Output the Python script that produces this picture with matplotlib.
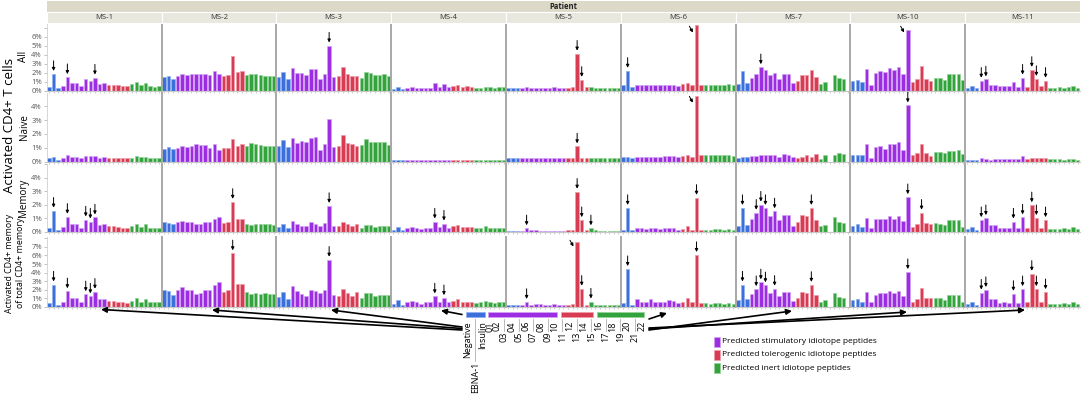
import numpy as np
import matplotlib
matplotlib.use("Agg")
from matplotlib import pyplot as plt
from matplotlib.patches import Rectangle

plt.rcParams["font.family"] = ["Open Sans", "DejaVu Sans"]

nan = np.nan

peptides = ["Negative", "EBNA-1", "Insulin", "01", "02", "03", "04", "05", "06", "07",
            "08", "09", "10", "11", "12", "13", "14", "15", "16", "17", "18", "19",
            "20", "21", "22"]
# first and last peptide index of each colour group
group_spans = [("ctrl", 0, 2), ("stim", 3, 12), ("tol", 13, 17), ("inert", 18, 24)]
patients = ["MS-1", "MS-2", "MS-3", "MS-4", "MS-5", "MS-6", "MS-7", "MS-10", "MS-11"]
row_names = ["All", "Naive", "Memory", "Total"]

# % activated, row "All"
all_ms1 = [0.4, 1.85, 0.3, 0.55, 1.5, 0.9, 0.9, 0.5, 1.3, 1.05, 1.45, 0.7, 0.85, 0.6, 0.6, 0.6, 0.5, 0.5, 0.7, 1.0, 0.65, 0.9, 0.55, 0.45, 0.5]
all_ms2 = [1.55, 1.65, 1.3, 1.65, 1.9, 1.75, 1.8, 1.8, 1.8, 1.9, 1.7, 2.15, 1.85, 1.65, 1.7, 3.8, 2.05, 2.15, 1.7, 1.8, 1.85, 1.75, 1.65, 1.65, 1.6]
all_ms3 = [1.5, 2.1, 1.3, 2.5, 1.95, 1.95, 1.75, 2.35, 2.35, 1.3, 1.9, 5.0, 1.5, 1.6, 2.6, 1.85, 1.65, 1.65, 1.4, 2.1, 1.95, 1.7, 1.75, 1.85, 1.65]
all_ms4 = [0.2, 0.45, 0.2, 0.35, 0.4, 0.35, 0.35, 0.35, 0.35, 0.85, 0.45, 0.75, 0.4, 0.55, 0.6, 0.45, 0.5, 0.45, 0.35, 0.35, 0.45, 0.4, 0.35, 0.4, 0.4]
all_ms5 = [0.3, 0.3, 0.3, 0.3, 0.4, 0.35, 0.35, 0.35, 0.35, 0.35, 0.4, 0.35, 0.35, 0.35, 0.4, 4.1, 1.2, 0.4, 0.45, 0.35, 0.35, 0.35, 0.3, 0.3, 0.35]
all_ms6 = [0.6, 2.2, 0.4, 0.65, 0.65, 0.6, 0.65, 0.6, 0.6, 0.65, 0.65, 0.65, 0.55, 0.7, 0.9, 0.6, 7.3, 0.65, 0.65, 0.65, 0.65, 0.65, 0.65, 0.75, 0.6]
all_ms7 = [0.75, 2.15, 0.9, 1.45, 1.8, 2.6, 2.25, 1.75, 2.0, 1.35, 1.9, 1.85, 0.8, 1.1, 1.7, 1.7, 2.25, 1.5, 0.7, 0.95, nan, 1.7, 1.4, 1.3, nan]
all_ms10 = [1.1, 1.15, 0.95, 2.35, 0.65, 1.95, 2.2, 2.05, 2.5, 2.25, 2.65, 1.8, 6.75, 1.0, 1.35, 2.7, 1.35, 1.1, 1.45, 1.4, 1.2, 1.85, 1.85, 1.85, 1.15]
all_ms11 = [0.25, 0.55, 0.3, 1.1, 1.25, 0.65, 0.65, 0.5, 0.5, 0.5, 0.95, 0.45, 1.45, 0.45, 2.3, 1.3, 0.55, 1.1, 0.35, 0.35, 0.4, 0.35, 0.4, 0.55, 0.35]

# row "Naive"
naive_ms1 = [0.25, 0.35, 0.15, 0.25, 0.45, 0.35, 0.35, 0.25, 0.42, 0.4, 0.42, 0.3, 0.35, 0.3, 0.3, 0.3, 0.3, 0.3, 0.3, 0.4, 0.35, 0.35, 0.3, 0.25, 0.3]
naive_ms2 = [0.9, 1.05, 0.9, 1.0, 1.1, 1.05, 1.15, 1.3, 1.2, 1.2, 1.0, 1.25, 0.85, 1.0, 0.98, 1.6, 1.15, 1.25, 1.15, 1.35, 1.3, 1.2, 1.1, 1.1, 1.1]
naive_ms3 = [1.15, 1.55, 1.05, 1.7, 1.35, 1.5, 1.4, 1.7, 1.75, 0.85, 1.3, 3.1, 1.05, 1.15, 1.9, 1.35, 1.25, 1.1, 1.2, 1.65, 1.45, 1.4, 1.4, 1.45, 1.2]
naive_ms4 = [0.1, 0.15, 0.1, 0.1, 0.1, 0.12, 0.12, 0.1, 0.1, 0.12, 0.12, 0.12, 0.1, 0.12, 0.12, 0.12, 0.12, 0.12, 0.1, 0.1, 0.1, 0.1, 0.1, 0.1, 0.1]
naive_ms5 = [0.25, 0.25, 0.25, 0.25, 0.3, 0.25, 0.25, 0.3, 0.3, 0.25, 0.3, 0.3, 0.25, 0.25, 0.25, 1.1, 0.3, 0.25, 0.3, 0.3, 0.3, 0.3, 0.25, 0.25, 0.3]
naive_ms6 = [0.35, 0.35, 0.3, 0.35, 0.35, 0.35, 0.35, 0.35, 0.35, 0.4, 0.38, 0.38, 0.35, 0.4, 0.5, 0.35, 4.75, 0.45, 0.45, 0.45, 0.45, 0.45, 0.45, 0.5, 0.4]
naive_ms7 = [0.3, 0.35, 0.35, 0.4, 0.38, 0.5, 0.45, 0.5, 0.45, 0.35, 0.55, 0.5, 0.35, 0.3, 0.35, 0.45, 0.35, 0.55, 0.2, 0.45, nan, 0.5, 0.6, 0.55, nan]
naive_ms10 = [0.5, 0.5, 0.5, 1.3, 0.3, 1.05, 1.1, 0.95, 1.3, 1.25, 1.45, 0.85, 4.05, 0.5, 0.65, 1.3, 0.6, 0.4, 0.7, 0.7, 0.6, 0.8, 0.8, 0.85, 0.55]
naive_ms11 = [0.15, 0.15, 0.12, 0.25, 0.22, 0.15, 0.2, 0.2, 0.22, 0.22, 0.2, 0.2, 0.4, 0.2, 0.3, 0.25, 0.25, 0.25, 0.2, 0.2, 0.2, 0.15, 0.2, 0.2, 0.15]

# row "Memory"
memory_ms1 = [0.25, 1.55, 0.15, 0.35, 1.1, 0.6, 0.6, 0.3, 0.9, 0.75, 1.05, 0.5, 0.55, 0.4, 0.4, 0.35, 0.3, 0.25, 0.45, 0.6, 0.35, 0.6, 0.3, 0.3, 0.3]
memory_ms2 = [0.7, 0.65, 0.55, 0.7, 0.8, 0.7, 0.7, 0.55, 0.6, 0.7, 0.7, 0.95, 1.05, 0.65, 0.75, 2.2, 0.95, 0.95, 0.6, 0.5, 0.6, 0.55, 0.55, 0.55, 0.5]
memory_ms3 = [0.35, 0.55, 0.3, 0.8, 0.6, 0.45, 0.4, 0.7, 0.6, 0.45, 0.65, 1.9, 0.45, 0.45, 0.7, 0.55, 0.4, 0.55, 0.3, 0.5, 0.5, 0.35, 0.4, 0.4, 0.4]
memory_ms4 = [0.15, 0.35, 0.1, 0.3, 0.35, 0.3, 0.2, 0.3, 0.3, 0.75, 0.35, 0.6, 0.3, 0.4, 0.5, 0.35, 0.35, 0.35, 0.3, 0.3, 0.4, 0.3, 0.25, 0.3, 0.3]
memory_ms5 = [0.05, 0.05, 0.05, 0.05, 0.25, 0.1, 0.1, 0.08, 0.08, 0.08, 0.08, 0.08, 0.08, 0.1, 0.12, 2.95, 0.85, 0.1, 0.25, 0.1, 0.08, 0.08, 0.08, 0.08, 0.08]
memory_ms6 = [0.15, 1.75, 0.1, 0.3, 0.25, 0.2, 0.3, 0.25, 0.2, 0.25, 0.3, 0.25, 0.15, 0.2, 0.4, 0.15, 2.5, 0.15, 0.15, 0.15, 0.2, 0.2, 0.15, 0.2, 0.15]
memory_ms7 = [0.45, 1.75, 0.5, 0.95, 1.4, 2.0, 1.75, 1.15, 1.5, 0.85, 1.25, 1.25, 0.4, 0.75, 1.25, 1.15, 1.75, 0.85, 0.45, 0.5, nan, 1.05, 0.75, 0.65, nan]
memory_ms10 = [0.4, 0.55, 0.35, 1.0, 0.3, 0.95, 0.95, 0.95, 1.15, 0.95, 1.15, 0.8, 2.55, 0.35, 0.6, 1.4, 0.65, 0.6, 0.65, 0.6, 0.5, 0.85, 0.85, 0.85, 0.35]
memory_ms11 = [0.2, 0.35, 0.15, 0.85, 1.0, 0.5, 0.5, 0.25, 0.3, 0.25, 0.75, 0.25, 1.05, 0.3, 1.95, 1.0, 0.3, 0.85, 0.2, 0.2, 0.2, 0.3, 0.2, 0.35, 0.2]

# row "Activated CD4+ memory of total CD4+ memory"
total_ms1 = [0.4, 2.6, 0.25, 0.6, 1.8, 1.0, 1.0, 0.5, 1.45, 1.2, 1.75, 0.85, 0.95, 0.65, 0.65, 0.6, 0.55, 0.4, 0.65, 1.05, 0.6, 0.95, 0.5, 0.5, 0.5]
total_ms2 = [1.9, 1.8, 1.35, 1.9, 2.25, 1.9, 1.9, 1.5, 1.6, 2.0, 2.0, 2.6, 2.95, 1.7, 2.0, 6.25, 2.7, 2.7, 1.7, 1.45, 1.65, 1.5, 1.55, 1.5, 1.5]
total_ms3 = [1.1, 1.7, 0.95, 2.4, 1.8, 1.5, 1.3, 2.0, 1.8, 1.6, 2.0, 5.5, 1.4, 1.3, 2.1, 1.6, 1.3, 1.7, 1.05, 1.6, 1.6, 1.2, 1.35, 1.35, 1.35]
total_ms4 = [0.3, 0.75, 0.25, 0.6, 0.7, 0.55, 0.3, 0.55, 0.5, 1.2, 0.55, 1.0, 0.5, 0.7, 0.85, 0.55, 0.6, 0.5, 0.45, 0.5, 0.65, 0.5, 0.45, 0.5, 0.5]
total_ms5 = [0.15, 0.15, 0.15, 0.2, 0.55, 0.2, 0.3, 0.3, 0.25, 0.2, 0.3, 0.25, 0.2, 0.25, 0.3, 7.6, 2.1, 0.25, 0.6, 0.2, 0.2, 0.2, 0.2, 0.15, 0.15]
total_ms6 = [0.4, 4.4, 0.25, 0.85, 0.6, 0.5, 0.85, 0.6, 0.5, 0.6, 0.75, 0.65, 0.45, 0.55, 1.0, 0.55, 6.05, 0.4, 0.4, 0.35, 0.4, 0.45, 0.35, 0.45, 0.35]
total_ms7 = [0.75, 2.6, 0.85, 1.45, 2.05, 2.85, 2.5, 1.65, 2.1, 1.3, 1.75, 1.75, 0.7, 1.05, 1.7, 1.6, 2.55, 1.35, 0.6, 0.75, nan, 1.55, 1.15, 1.0, nan]
total_ms10 = [0.75, 0.85, 0.55, 1.75, 0.55, 1.4, 1.55, 1.55, 1.85, 1.6, 1.85, 1.3, 4.05, 0.55, 0.95, 2.2, 1.05, 1.0, 1.05, 1.0, 0.8, 1.35, 1.35, 1.35, 0.6]
total_ms11 = [0.3, 0.55, 0.25, 1.65, 1.95, 0.95, 0.95, 0.45, 0.55, 0.45, 1.5, 0.45, 2.05, 0.6, 3.85, 2.05, 0.55, 1.7, 0.3, 0.3, 0.35, 0.45, 0.35, 0.6, 0.35]

# peptide indices marked with a down arrow
arrows_all = {"MS-1": [1, 4, 10], "MS-3": [11], "MS-5": [15, 16], "MS-6": [1],
              "MS-7": [5], "MS-11": [3, 4, 12, 14, 15, 17]}
arrows_naive = {"MS-5": [15], "MS-10": [12]}
arrows_memory = {"MS-1": [1, 4, 8, 9, 10], "MS-2": [15], "MS-3": [11], "MS-4": [9, 11],
                 "MS-5": [4, 15, 16, 18], "MS-6": [1, 16], "MS-7": [1, 4, 5, 6, 8, 16],
                 "MS-10": [12, 15], "MS-11": [3, 4, 10, 12, 14, 15, 17]}
arrows_total = {"MS-1": [1, 4, 8, 9, 10], "MS-2": [15], "MS-3": [11], "MS-4": [9, 11],
                "MS-5": [4, 16, 18], "MS-6": [1, 16], "MS-7": [1, 4, 5, 6, 8, 16],
                "MS-10": [12], "MS-11": [3, 4, 10, 12, 14, 15, 17]}
# slanted arrows next to bars that run to the top of the scale
arrows_slant = [("All", "MS-6", 16), ("All", "MS-10", 12), ("Naive", "MS-6", 16),
                ("Total", "MS-5", 15)]

values = {
    "All": [all_ms1, all_ms2, all_ms3, all_ms4, all_ms5, all_ms6, all_ms7, all_ms10, all_ms11],
    "Naive": [naive_ms1, naive_ms2, naive_ms3, naive_ms4, naive_ms5, naive_ms6, naive_ms7, naive_ms10, naive_ms11],
    "Memory": [memory_ms1, memory_ms2, memory_ms3, memory_ms4, memory_ms5, memory_ms6, memory_ms7, memory_ms10, memory_ms11],
    "Total": [total_ms1, total_ms2, total_ms3, total_ms4, total_ms5, total_ms6, total_ms7, total_ms10, total_ms11],
}
arrows = {"All": arrows_all, "Naive": arrows_naive, "Memory": arrows_memory, "Total": arrows_total}

colors = {"ctrl": "#3a6fdc", "stim": "#9d2de3", "tol": "#d83c52", "inert": "#33a43d"}
edges = {"ctrl": "#8fb0ee", "stim": "#d4a4f3", "tol": "#ee9eaa", "inert": "#94d39a"}
bar_colors, bar_edges = [], []
for g, a, b in group_spans:
    bar_colors += [colors[g]] * (b - a + 1)
    bar_edges += [edges[g]] * (b - a + 1)

# layout in pixels
W, H = 1084, 395
x0, x1 = 46.7, 1080
pw = (x1 - x0) / len(patients)
row_top = [23, 93, 164, 236.7]
row_bot = [90.7, 161.7, 231.7, 306.7]
ymax = [7.5, 4.95, 5.0, 8.2]
nlab = [6, 4, 4, 7]


def fbox(left, top, width, height):
    return [left / W, 1 - (top + height) / H, width / W, height / H]


fig = plt.figure(figsize=(W / 100, H / 100), dpi=100)

xs = np.arange(len(peptides))
for r, rn in enumerate(row_names):
    for c, p in enumerate(patients):
        ax = fig.add_axes(fbox(x0 + c * pw, row_top[r], pw, row_bot[r] - row_top[r]))
        h = np.array(values[rn][c], dtype=float)
        ok = np.isfinite(h)
        ax.bar(xs[ok], h[ok], width=0.76, color=np.array(bar_colors)[ok],
               edgecolor=np.array(bar_edges)[ok], linewidth=0.5)
        ax.set_xlim(-0.5, len(peptides) - 0.5)
        ax.set_ylim(0, ymax[r])
        ax.set_xticks(xs)
        ax.set_xticklabels([])
        ax.tick_params(axis="x", length=1.5, width=0.5, color="#bbbbbb")
        ticks = list(range(0, int(ymax[r]) + 1))
        ax.set_yticks(ticks)
        if c == 0:
            ax.set_yticklabels([f"{t}%" if t <= nlab[r] else "" for t in ticks],
                               fontsize=5.5, color="#555555")
            ax.tick_params(axis="y", length=2, width=0.5, color="#aaaaaa", pad=1.5)
        else:
            ax.tick_params(axis="y", length=0, labelleft=False)
        for s in ["top", "right"]:
            ax.spines[s].set_visible(False)
        ax.spines["bottom"].set_color("#c8c8c8")
        ax.spines["bottom"].set_linewidth(0.8)
        ax.spines["left"].set_color("#d0d0d0" if c == 0 else "#a8a8a8")
        ax.spines["left"].set_linewidth(0.6 if c == 0 else 1.4)
        ax.patch.set_alpha(0)

        for i in arrows[rn].get(p, []):
            ax.annotate("", xy=(i, h[i]), xytext=(0, 9.5), textcoords="offset points",
                        arrowprops=dict(arrowstyle="-|>", color="black", lw=0.7,
                                        mutation_scale=4.5, shrinkA=0, shrinkB=2.2),
                        annotation_clip=False)
        for sr, sp, i in arrows_slant:
            if sr == rn and sp == p:
                ax.annotate("", xy=(i - 0.8, ymax[r] * 0.86), xytext=(-2.5, 4.5),
                            textcoords="offset points",
                            arrowprops=dict(arrowstyle="-|>", color="black", lw=0.7,
                                            mutation_scale=4.5, shrinkA=0, shrinkB=0))

# overlay in pixel coordinates for strips, labels and the key
ov = fig.add_axes([0, 0, 1, 1])
ov.set_xlim(0, W)
ov.set_ylim(H, 0)
ov.axis("off")
ov.patch.set_alpha(0)

ov.add_patch(Rectangle((x0, 1), x1 - x0, 10.5, facecolor="#dcd9c8", edgecolor="none"))
ov.text((x0 + x1) / 2, 6.3, "Patient", fontsize=5.5, fontweight="bold", ha="center",
        va="center", color="#222222")
for c, p in enumerate(patients):
    ov.add_patch(Rectangle((x0 + c * pw, 12), pw, 10.5, facecolor="#e9e8df",
                           edgecolor="white", linewidth=0.8))
    ov.text(x0 + (c + 0.5) * pw, 17.3, p, fontsize=5.5, ha="center", va="center",
            color="#333333")

ov.text(10, 125, "Activated CD4+ T cells", rotation=90, fontsize=9.5, ha="center",
        va="center")
for r, lab in enumerate(["All", "Naive", "Memory"]):
    ov.text(24, (row_top[r] + row_bot[r]) / 2, lab, rotation=90, fontsize=7,
            ha="center", va="center")
ov.text(15, 263, "Activated CD4+ memory\nof total CD4+ memory", rotation=90,
        fontsize=6.3, ha="center", va="center", linespacing=1.15)

# peptide key under MS-5
cat_left, cat_step = 464.4, 7.25
lower = {"03", "05", "07", "09", "11", "13", "15", "17", "19", "21"}
for g, a, b in group_spans:
    xa = cat_left + (a + 0.5) * cat_step - 1.6
    xb = cat_left + (b + 0.5) * cat_step + 2.0
    ov.add_patch(Rectangle((xa, 312.3), xb - xa, 4.4, facecolor=colors[g],
                           edgecolor=edges[g], linewidth=0.5))
for i, lab in enumerate(peptides):
    cx = cat_left + (i + 0.5) * cat_step
    top = 321
    if lab in lower:
        top = 332
    if lab == "EBNA-1":
        top = 362
    if top > 321:
        ov.plot([cx, cx], [318.5, top - 1], color="#b0b0b0", lw=0.6)
    ov.text(cx, top, lab, rotation=90, fontsize=6.5, ha="center", va="top")

# arrows from the key to the panels
pointers = [((462, 330), (101, 309.5)), ((462, 328.5), (212, 310)),
            ((462, 327), (331, 310)), ((462, 314.5), (441, 310.5)),
            ((649, 319), (667, 313)), ((649, 330), (792, 311)),
            ((649, 329), (907, 312)), ((649, 328), (1025, 310))]
for tail, head in pointers:
    ov.annotate("", xy=head, xytext=tail,
                arrowprops=dict(arrowstyle="-|>", color="black", lw=1.2,
                                mutation_scale=8, shrinkA=0, shrinkB=0))

# colour key
key = [("stim", "Predicted stimulatory idiotope peptides"),
       ("tol", "Predicted tolerogenic idiotope peptides"),
       ("inert", "Predicted inert idiotope peptides")]
for k, (g, text) in enumerate(key):
    yc = 341.5 + k * 13.3
    ov.add_patch(Rectangle((714, yc - 5), 5.5, 10, facecolor=colors[g],
                           edgecolor=edges[g], linewidth=0.5))
    ov.text(722.5, yc, text, fontsize=6, va="center", ha="left")

fig.savefig("out.png", dpi=100)
